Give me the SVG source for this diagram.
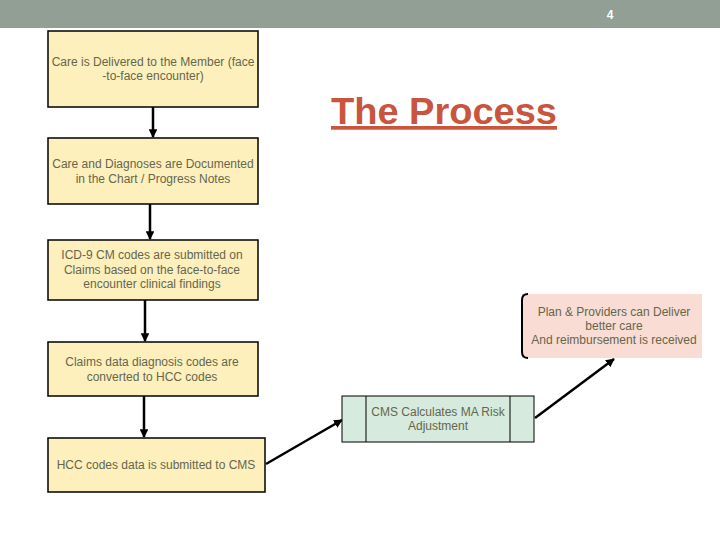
<svg xmlns="http://www.w3.org/2000/svg" width="720" height="540" viewBox="0 0 720 540">
<defs>
<style>
.y{fill:#fdf0bd;stroke:#000;stroke-width:1.5}
.t{font-family:"Liberation Sans",Arial,sans-serif;font-size:12px;fill:#66664c;text-anchor:middle}
.c{stroke:#000;stroke-width:2.5;fill:none;marker-end:url(#ah)}
</style>
<marker id="ah" viewBox="0 0 10 10" refX="9" refY="5" markerWidth="3.5" markerHeight="3.5" orient="auto" markerUnits="strokeWidth">
<path d="M0,0 L10,5 L0,10 z" fill="#000"/>
</marker>
</defs>
<rect width="720" height="540" fill="#fff"/>
<g id="header">
<rect x="0" y="0" width="720" height="28" fill="#919f94"/>
<text x="610" y="19" font-family="Liberation Sans,Arial,sans-serif" font-size="12" font-weight="bold" fill="#fff" text-anchor="middle">4</text>
</g>
<g id="title">
<text x="331" y="124" font-family="Liberation Sans,Arial,sans-serif" font-size="37" font-weight="bold" fill="#c9553e" text-decoration="underline" textLength="226" lengthAdjust="spacingAndGlyphs">The Process</text>
</g>
<g id="connectors">
<line class="c" x1="153" y1="107" x2="153" y2="137"/>
<line class="c" x1="150" y1="204" x2="150" y2="239"/>
<line class="c" x1="145" y1="300" x2="145" y2="341"/>
<line class="c" x1="144" y1="396" x2="144" y2="437"/>
<line class="c" x1="266" y1="464" x2="342" y2="420"/>
<line class="c" x1="535" y1="418" x2="614" y2="359"/>
</g>
<g id="n1">
<rect class="y" x="48" y="31" width="210" height="76"/>
<text class="t" x="153" y="66">Care is Delivered to the Member (face</text>
<text class="t" x="153" y="80">-to-face encounter)</text>
</g>
<g id="n2">
<rect class="y" x="48" y="138" width="210" height="66"/>
<text class="t" x="153" y="168">Care and Diagnoses are Documented</text>
<text class="t" x="153" y="183">in the Chart / Progress Notes</text>
</g>
<g id="n3">
<rect class="y" x="48" y="240" width="210" height="60"/>
<text class="t" x="152" y="259">ICD-9 CM codes are submitted on</text>
<text class="t" x="152" y="274">Claims based on the face-to-face</text>
<text class="t" x="152" y="288">encounter clinical findings</text>
</g>
<g id="n4">
<rect class="y" x="48" y="342" width="210" height="54"/>
<text class="t" x="152" y="366">Claims data diagnosis codes are</text>
<text class="t" x="152" y="381">converted to HCC codes</text>
</g>
<g id="n5">
<rect class="y" x="48" y="438" width="217" height="54"/>
<text class="t" x="156" y="469">HCC codes data is submitted to CMS</text>
</g>
<g id="n6">
<rect x="342" y="396" width="192" height="46" fill="#d6eadd" stroke="#000" stroke-width="1"/>
<line x1="366" y1="396" x2="366" y2="442" stroke="#000" stroke-width="1"/>
<line x1="510" y1="396" x2="510" y2="442" stroke="#000" stroke-width="1"/>
<text class="t" x="438" y="416">CMS Calculates MA Risk</text>
<text class="t" x="438" y="430">Adjustment</text>
</g>
<g id="n7">
<rect x="522" y="294" width="180" height="64" fill="#f9dcd3"/>
<path d="M528,294 Q522,294 522,300 L522,352 Q522,358 528,358" fill="none" stroke="#000" stroke-width="2"/>
<text class="t" x="614" y="316">Plan &amp; Providers can Deliver</text>
<text class="t" x="614" y="330">better care</text>
<text class="t" x="614" y="344">And reimbursement is received</text>
</g>
</svg>
